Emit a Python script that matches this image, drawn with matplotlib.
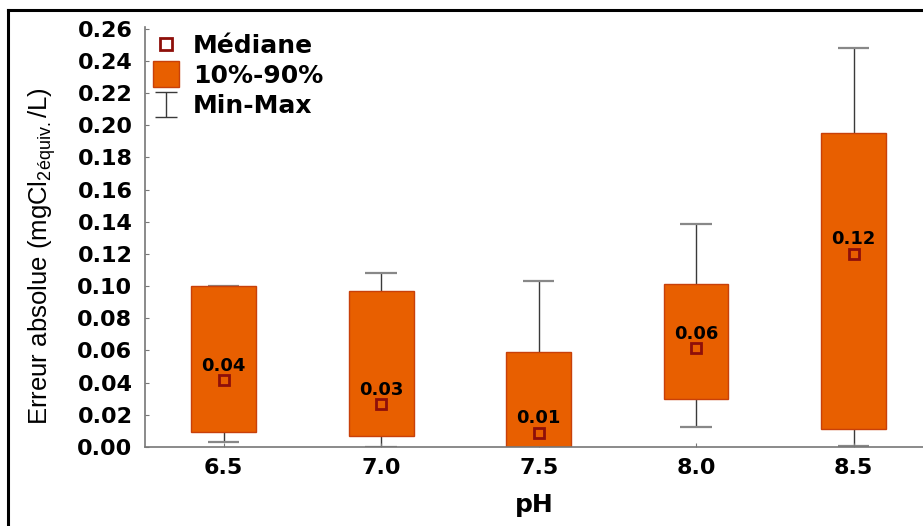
import numpy as np
import matplotlib
matplotlib.use('Agg')
import matplotlib.pyplot as plt
from matplotlib.lines import Line2D

# data
ph = [6.5, 7.0, 7.5, 8.0, 8.5]
mins = [0.003, 0.000, 0.000, 0.0124, 0.0006]
p10 = [0.0093, 0.0068, 0.000, 0.0297, 0.0111]
p90 = [0.100, 0.097, 0.0588, 0.101, 0.195]
maxs = [0.100, 0.108, 0.103, 0.1387, 0.2477]
medians = [0.0415, 0.0266, 0.0087, 0.0613, 0.120]
median_labels = ['0.04', '0.03', '0.01', '0.06', '0.12']
yticks = [0.00, 0.02, 0.04, 0.06, 0.08, 0.10, 0.12, 0.14, 0.16, 0.18, 0.20, 0.22, 0.24, 0.26]

orange = '#E85F00'
edge = '#C8400A'
dark_red = '#8E0F0A'
whisk = '#3a3a3a'

plt.rcParams['font.family'] = ['DejaVu Sans']

fig = plt.figure(figsize=(9.23, 5.26), dpi=100)
ax = fig.add_axes([145 / 923, 1 - 447 / 526, 1 - 145 / 923, 420 / 526])

x = np.array(ph)
lo = np.array(p10)
hi = np.array(p90)

# whiskers
ax.vlines(x, mins, lo, color=whisk, lw=1.0, zorder=1)
ax.vlines(x, hi, maxs, color=whisk, lw=1.0, zorder=1)
ax.hlines(mins, x - 0.05, x + 0.05, color='#888888', lw=1.6, zorder=1)
ax.hlines(maxs, x - 0.05, x + 0.05, color='#888888', lw=1.6, zorder=1)

# boxes
ax.bar(x, hi - lo, bottom=lo, width=0.205, color=orange, edgecolor=edge, lw=1.0, zorder=2)

# medians
ax.plot(x, medians, 's', ms=7, mfc=orange, mec=dark_red, mew=2, zorder=3)
for xi, m, lab in zip(x, medians, median_labels):
    ax.annotate(lab, (xi, m), xytext=(0, 4), textcoords='offset points',
                ha='center', va='bottom', fontsize=13, fontweight='bold', zorder=4)

ax.set_xlim(6.25, 8.72)
ax.set_ylim(0, 0.261)
ax.set_xticks(ph)
ax.set_xticklabels(['6.5', '7.0', '7.5', '8.0', '8.5'])
ax.set_yticks(yticks)
ax.set_yticklabels(['%.2f' % t for t in yticks])
for lab in ax.get_xticklabels() + ax.get_yticklabels():
    lab.set_fontsize(16)
    lab.set_fontweight('bold')
ax.tick_params(axis='both', direction='in', length=3, color='#777777', pad=9)
ax.tick_params(axis='x', pad=8)

for s in ['top', 'right']:
    ax.spines[s].set_visible(False)
for s in ['left', 'bottom']:
    ax.spines[s].set_color('#777777')
    ax.spines[s].set_linewidth(1.2)

ax.set_xlabel('pH', fontsize=18, fontweight='bold', labelpad=11)
ax.set_ylabel('Erreur absolue (mgCl$_{\\mathregular{2équiv.}}$/L)', fontsize=18.5,
              family=['Liberation Sans Narrow', 'Liberation Sans'])
ax.yaxis.set_label_coords(-0.112, 0.455)

# legend
eb = ax.errorbar([np.nan], [np.nan], yerr=[[1], [1]], fmt='none', ecolor=whisk,
                 elinewidth=1.0, capsize=8, label='Min-Max')
h_med = Line2D([], [], ls='none', marker='s', ms=8, mfc='white', mec=dark_red, mew=2)
h_box = Line2D([], [], ls='none', marker='s', ms=19, mfc=orange, mec=edge, mew=1)
ax.legend([h_med, h_box, eb], ['Médiane', '10%-90%', 'Min-Max'],
          loc='upper left', bbox_to_anchor=(-0.012, 1.02), frameon=False,
          prop={'size': 18, 'weight': 'bold'}, handlelength=1.2, handletextpad=0.5,
          labelspacing=0.25, borderaxespad=0.2)

# outer frame (left and top edges)
fig.add_artist(Line2D([8 / 923, 8 / 923], [0, 1 - 10 / 526], color='black', lw=2.2,
                      transform=fig.transFigure))
fig.add_artist(Line2D([8 / 923, 1], [1 - 10 / 526, 1 - 10 / 526], color='black', lw=2.2,
                      transform=fig.transFigure))

fig.savefig('out.png', dpi=100)
